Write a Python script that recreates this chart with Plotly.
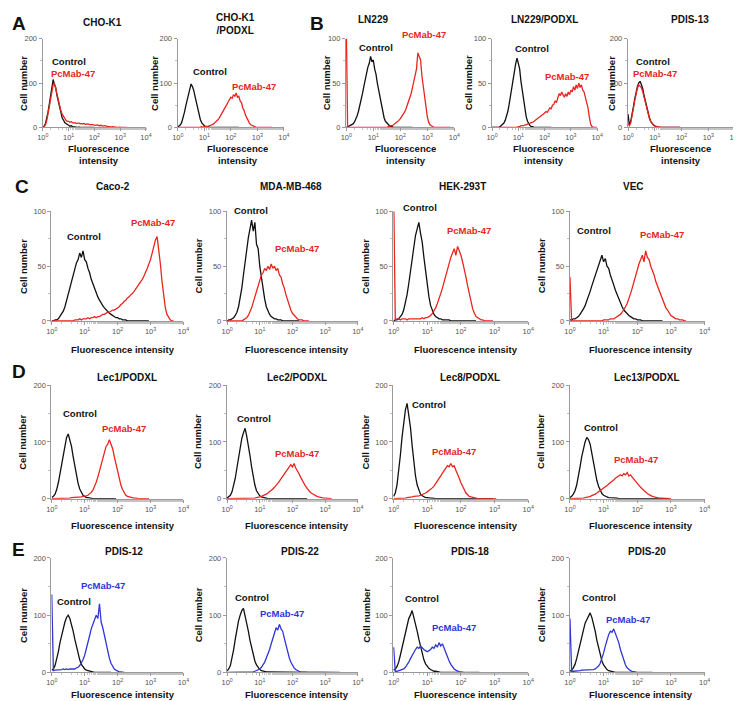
import plotly.graph_objects as go

W, H = 741, 701
RED = "#e8251f"
BLUE = "#2f36d8"
BLACK = "#111111"
AXIS = "#9a9a9a"
FONT = "Arial"

# fluorescence channels (log scale, 20 per decade)
channels = [
    1.0, 1.122, 1.259, 1.413, 1.585, 1.778, 1.995, 2.239, 2.512, 2.818,
    3.162, 3.548, 3.981, 4.467, 5.012, 5.623, 6.310, 7.079, 7.943, 8.913,
    10.0, 11.22, 12.59, 14.13, 15.85, 17.78, 19.95, 22.39, 25.12, 28.18,
    31.62, 35.48, 39.81, 44.67, 50.12, 56.23, 63.10, 70.79, 79.43, 89.13,
    100.0, 112.2, 125.9, 141.3, 158.5, 177.8, 199.5, 223.9, 251.2, 281.8,
    316.2, 354.8, 398.1, 446.7, 501.2, 562.3, 631.0, 707.9, 794.3, 891.3,
    1000, 1122, 1259, 1413, 1585, 1778, 1995, 2239, 2512, 2818,
    3162, 3548, 3981, 4467, 5012, 5623, 6310, 7079, 7943, 8913,
    10000]

tick_vals = [1, 10, 100, 1000, 10000]
tick_text = ["10<sup>0</sup>", "10<sup>1</sup>", "10<sup>2</sup>", "10<sup>3</sup>", "10<sup>4</sup>"]

# ---- A: CHO-K1, CHO-K1/PODXL ----
cho_k1_control = [1, 3, 8, 18, 34, 52, 74, 92, 108, 96,
                  90, 72, 60, 44, 34, 22, 17, 11, 9, 6,
                  5, 3, 4, 2, 2, 1, 1, 0, 1, 0,
                  0, 0, 0, 0, 0, 0, 0, 0, 0, 0, 0]
cho_k1_pcmab = [1, 2, 6, 15, 30, 48, 70, 88, 96, 100,
                86, 74, 62, 50, 38, 30, 24, 19, 16, 14,
                14, 12, 13, 11, 10, 11, 9, 10, 10, 8,
                9, 8, 9, 7, 8, 8, 7, 6, 7, 6,
                6, 5, 6, 5, 4, 5, 4, 3, 4, 3,
                2, 2, 2, 1, 2, 1, 1, 1, 0, 1,
                0, 0, 0, 0, 0, 0]
cho_podxl_control = [1, 3, 6, 12, 22, 34, 48, 62, 76, 86,
                     98, 92, 84, 70, 56, 40, 28, 18, 11, 6,
                     4, 2, 2, 1, 1, 0, 0, 0, 0, 0,
                     0, 0, 0, 0, 0, 0, 0, 0, 0, 0, 0, 0, 0, 0, 0, 0, 0]
cho_podxl_pcmab = [0, 0, 0, 0, 0, 0, 0, 0, 0, 0,
                   0, 0, 0, 0, 0, 0, 1, 1, 2, 1,
                   2, 2, 3, 3, 4, 5, 7, 8, 11, 13,
                   17, 20, 25, 29, 35, 40, 46, 52, 58, 62,
                   68, 66, 74, 70, 78, 68, 70, 60, 56, 44,
                   38, 28, 22, 14, 10, 6, 4, 2, 2, 1,
                   1, 0, 0, 0, 0, 0, 0, 0, 0, 0, 0, 0]

# ---- B: LN229, LN229/PODXL, PDIS-13 ----
ln229_control = [0, 1, 1, 2, 3, 4, 6, 9, 13, 18,
                 24, 31, 38, 46, 54, 60, 68, 72, 80, 74,
                 76, 66, 60, 50, 42, 32, 24, 17, 11, 7,
                 5, 3, 2, 1, 1, 0, 0, 0, 0, 0,
                 0, 0, 0, 0, 0, 0, 0, 0, 0, 0]
ln229_pcmab = [120, 0, 0, 0, 0, 0, 0, 0, 0, 0,
               0, 0, 0, 0, 0, 0, 0, 0, 0, 0,
               0, 0, 0, 0, 0, 0, 0, 0, 0, 0,
               0, 1, 1, 2, 2, 3, 4, 5, 6, 8,
               10, 12, 14, 17, 20, 24, 28, 33, 38, 45,
               52, 62, 66, 84, 80, 76, 58, 46, 32, 20,
               12, 6, 3, 2, 1, 0, 0, 0, 0, 0,
               0, 0, 0, 0, 0, 0, 0, 0]
ln229_podxl_control = [0, 0, 0, 0, 0, 0, 1, 2, 3, 5,
                       8, 12, 18, 26, 35, 46, 56, 66, 72, 78,
                       70, 66, 52, 42, 30, 20, 12, 7, 4, 2,
                       1, 1, 0, 0, 0, 0, 0, 0, 0, 0,
                       0, 0, 0, 0, 0, 0]
ln229_podxl_pcmab = [0, 0, 0, 0, 0, 0, 0, 0, 0, 0,
                     0, 0, 0, 0, 0, 0, 0, 0, 0, 0,
                     1, 1, 2, 2, 2, 3, 3, 4, 4, 5,
                     6, 6, 7, 8, 9, 10, 11, 12, 14, 15,
                     16, 18, 17, 20, 22, 21, 25, 26, 30, 28,
                     34, 38, 36, 40, 37, 34, 38, 35, 40, 37,
                     42, 40, 46, 42, 48, 44, 50, 45, 48, 42,
                     40, 34, 30, 22, 12, 4, 1, 0, 0, 0, 0]
pdis13_control = [30, 6, 14, 28, 46, 64, 80, 92, 100, 104,
                  96, 88, 72, 58, 44, 32, 22, 14, 9, 6,
                  4, 2, 1, 1, 0, 0, 0, 0, 0, 0,
                  0, 0, 0, 0, 0, 0, 0, 0, 0, 0]
pdis13_pcmab = [8, 4, 10, 24, 42, 60, 78, 88, 96, 94,
                90, 80, 68, 54, 40, 28, 20, 13, 8, 5,
                3, 2, 1, 1, 0, 0, 0, 0, 0, 0,
                0, 0, 0, 0, 0, 0, 0, 0, 0, 0]

# ---- C: Caco-2, MDA-MB-468, HEK-293T, VEC ----
caco2_control = [0, 0, 1, 1, 2, 4, 6, 9, 13, 18,
                 24, 30, 36, 42, 48, 53, 56, 62, 58, 64,
                 56, 54, 48, 44, 38, 34, 30, 25, 22, 19,
                 16, 14, 12, 10, 9, 7, 6, 5, 4, 3,
                 3, 2, 2, 1, 1, 1, 0, 0, 0, 0,
                 0, 0, 0, 0, 0, 0, 0, 0, 0, 0]
caco2_pcmab = [0, 0, 0, 0, 0, 0, 0, 0, 0, 0,
               0, 0, 0, 0, 1, 1, 1, 2, 1, 2,
               2, 2, 3, 2, 3, 3, 4, 3, 4, 4,
               5, 6, 6, 7, 8, 8, 9, 10, 10, 11,
               12, 13, 15, 16, 18, 19, 21, 22, 24, 25,
               27, 29, 31, 33, 36, 38, 41, 44, 48, 52,
               56, 62, 68, 74, 77, 66, 52, 36, 22, 12,
               6, 3, 1, 0, 0]
mda_control = [0, 1, 1, 2, 3, 5, 8, 13, 20, 30,
               42, 54, 66, 76, 84, 92, 82, 90, 70, 66,
               50, 40, 28, 20, 13, 9, 6, 4, 3, 2,
               2, 1, 1, 1, 0, 0, 0, 0, 0, 0,
               0, 0, 0, 0, 0]
mda_pcmab = [0, 0, 0, 0, 0, 0, 0, 0, 0, 0,
             1, 2, 3, 5, 8, 12, 17, 22, 28, 33,
             38, 42, 44, 48, 46, 50, 47, 52, 48, 50,
             46, 48, 42, 40, 34, 30, 24, 19, 14, 10,
             7, 5, 3, 2, 1, 1, 1, 0, 0, 0, 0]
hek_control = [0, 1, 1, 2, 4, 6, 10, 16, 24, 34,
               46, 58, 70, 78, 84, 90, 80, 72, 58, 46,
               32, 22, 14, 9, 6, 4, 3, 2, 2, 1,
               1, 1, 1, 1, 0, 0, 0, 0, 0, 0,
               0, 0, 0, 0, 0, 0, 0, 0, 0, 0]
hek_pcmab = [120, 1, 2, 2, 1, 2, 2, 2, 1, 2,
             2, 2, 2, 2, 2, 2, 2, 3, 2, 3,
             3, 4, 5, 7, 9, 12, 16, 20, 25, 30,
             36, 42, 48, 54, 58, 62, 66, 60, 68, 64,
             60, 54, 48, 40, 32, 24, 17, 11, 7, 4,
             3, 2, 1, 1, 0, 0, 0, 0, 0, 0]
vec_control = [1, 1, 2, 2, 3, 4, 6, 8, 11, 14,
               18, 22, 27, 32, 37, 42, 47, 52, 55, 60,
               54, 57, 50, 48, 42, 38, 33, 28, 24, 20,
               16, 13, 10, 8, 6, 5, 4, 3, 2, 2,
               1, 1, 1, 0, 0, 0, 0, 0, 0, 0,
               0, 0, 0, 0, 0, 0]
vec_pcmab = [40, 0, 0, 0, 0, 0, 0, 0, 0, 0,
             0, 0, 0, 0, 0, 0, 0, 0, 0, 0,
             1, 1, 1, 1, 2, 2, 2, 3, 4, 5,
             6, 8, 10, 13, 16, 20, 25, 30, 36, 42,
             46, 52, 56, 60, 54, 64, 58, 56, 50, 46,
             42, 36, 32, 28, 24, 20, 16, 12, 10, 7,
             5, 4, 3, 2, 2, 1, 1, 1, 0, 0]

# ---- D: Lec mutants ----
lec1_control = [2, 4, 8, 16, 28, 44, 62, 80, 96, 108,
                114, 104, 92, 74, 56, 40, 27, 17, 10, 6,
                4, 2, 2, 1, 1, 0, 0, 0, 0, 0,
                0, 0, 0, 0, 0, 0, 0, 0, 0, 0]
lec1_pcmab = [0, 0, 0, 0, 0, 0, 0, 0, 0, 0,
              1, 1, 2, 2, 2, 2, 3, 3, 3, 4,
              4, 5, 6, 8, 11, 15, 21, 29, 38, 48,
              60, 72, 82, 92, 96, 104, 96, 88, 74, 60,
              46, 34, 24, 16, 10, 6, 4, 3, 2, 1,
              1, 1, 0, 0, 0, 0, 0, 0, 0, 0]
lec2_control = [1, 3, 6, 12, 22, 36, 54, 74, 92, 106,
                116, 124, 110, 96, 76, 56, 38, 24, 14, 8,
                5, 3, 2, 1, 1, 0, 0, 0, 0, 0,
                0, 0, 0, 0, 0, 0, 0, 0, 0, 0,
                0, 0, 0, 0, 0, 0, 0, 0, 0, 0]
lec2_pcmab = [0, 0, 0, 0, 0, 0, 0, 0, 0, 0,
              0, 0, 0, 0, 0, 0, 1, 1, 2, 2,
              3, 4, 5, 6, 8, 10, 12, 14, 17, 20,
              23, 27, 31, 35, 40, 44, 48, 52, 56, 60,
              56, 62, 54, 50, 44, 38, 32, 27, 22, 18,
              14, 11, 9, 7, 5, 4, 3, 2, 2, 1,
              1, 1, 0, 0, 0]
lec8_control = [4, 10, 24, 46, 76, 108, 138, 156, 168, 150,
                126, 94, 64, 40, 24, 14, 8, 5, 3, 2,
                2, 1, 1, 1, 0, 0, 0, 0, 0, 0,
                0, 0, 0, 0, 0, 0, 0, 0, 0, 0,
                0, 0, 0, 0, 0, 0, 0, 0, 0, 0,
                0, 0, 0, 0, 0, 0, 0, 0, 0, 0]
lec8_pcmab = [0, 0, 0, 0, 0, 0, 1, 1, 2, 2,
              3, 3, 4, 4, 5, 5, 6, 7, 8, 10,
              12, 14, 16, 19, 22, 26, 30, 35, 40, 45,
              50, 54, 58, 56, 62, 56, 58, 50, 44, 36,
              28, 21, 15, 10, 7, 4, 3, 2, 1, 1,
              0, 0, 0, 0, 0, 0, 0, 0, 0, 0, 0, 0]
lec13_control = [2, 4, 8, 14, 24, 38, 56, 74, 90, 100,
                 108, 104, 96, 80, 62, 46, 32, 22, 14, 9,
                 6, 4, 3, 2, 2, 1, 1, 1, 1, 0,
                 0, 0, 0, 0, 0, 0, 0, 0, 0, 0,
                 0, 0, 0, 0, 0, 0, 0, 0, 0, 0,
                 0, 0, 0, 0, 0, 0, 0, 0, 0, 0]
lec13_pcmab = [0, 0, 0, 0, 0, 0, 0, 0, 1, 2,
               2, 3, 4, 5, 6, 8, 10, 12, 14, 16,
               18, 21, 23, 26, 28, 31, 33, 36, 38, 40,
               42, 40, 44, 42, 46, 40, 42, 38, 34, 30,
               27, 23, 20, 17, 14, 11, 9, 7, 5, 4,
               3, 2, 2, 1, 1, 1, 1, 1, 0, 0, 0]

# ---- E: PDIS lines ----
pdis12_control = [4, 6, 12, 22, 36, 52, 66, 78, 88, 96,
                  100, 94, 84, 72, 58, 44, 32, 22, 14, 9,
                  6, 4, 3, 2, 1, 1, 0, 0, 0, 0,
                  0, 0, 0, 0, 0, 0, 0]
pdis12_pcmab = [136, 3, 4, 4, 5, 4, 5, 6, 5, 6,
                5, 6, 6, 7, 6, 8, 9, 12, 16, 22,
                30, 40, 52, 64, 76, 86, 92, 100, 94, 120,
                88, 78, 64, 50, 36, 25, 16, 10, 6, 4,
                2, 1, 1, 0, 0]
pdis22_control = [3, 6, 12, 24, 40, 58, 76, 90, 100, 108,
                  112, 100, 88, 72, 56, 42, 30, 20, 13, 8,
                  5, 3, 2, 2, 1, 1, 1, 0, 0, 0,
                  0, 0, 0, 0, 0, 0, 0, 0, 0, 0,
                  0, 0, 0, 0, 0, 0, 0, 0, 0, 0]
pdis22_pcmab = [0, 0, 0, 0, 0, 0, 0, 0, 0, 0,
                0, 0, 0, 0, 0, 0, 1, 2, 3, 4,
                6, 9, 13, 18, 25, 32, 40, 50, 60, 70,
                78, 74, 84, 76, 72, 60, 48, 36, 26, 18,
                12, 8, 5, 3, 2, 1, 1, 0, 0, 0,
                0, 0, 0, 0, 0, 0, 0, 0, 0, 0,
                0, 0, 0, 0, 0, 0, 0, 0, 0, 0]
pdis18_control = [4, 6, 10, 18, 30, 44, 58, 72, 84, 94,
                  100, 108, 96, 86, 72, 58, 44, 32, 22, 15,
                  10, 7, 5, 3, 2, 2, 1, 1, 0, 0,
                  0, 0, 0, 0, 0, 0, 0, 0, 0, 0]
pdis18_pcmab = [44, 2, 2, 3, 3, 4, 6, 9, 13, 18,
                24, 30, 36, 40, 44, 42, 46, 42, 40, 38,
                36, 38, 40, 44, 42, 48, 44, 52, 46, 50,
                42, 36, 28, 20, 14, 9, 6, 4, 2, 1,
                1, 0, 0, 0, 0, 0, 0, 0, 0, 0, 0, 0]
pdis20_control = [2, 4, 8, 14, 24, 36, 50, 64, 76, 86,
                  92, 98, 104, 96, 86, 72, 56, 42, 30, 20,
                  13, 8, 5, 3, 2, 1, 1, 0, 0, 0,
                  0, 0, 0, 0, 0, 0, 0, 0, 0, 0]
pdis20_pcmab = [94, 2, 2, 2, 3, 3, 3, 4, 4, 4,
                4, 4, 4, 4, 5, 6, 8, 11, 16, 24,
                34, 46, 58, 66, 72, 70, 76, 68, 62, 52,
                40, 30, 20, 13, 8, 5, 3, 2, 1, 1,
                0, 0, 0, 0, 0, 0, 0, 0, 0, 0]


# layout of each panel in pixels: box = (left, right, top, bottom)
row_ab = (27, 117)
row_c = (202, 313)
row_d = (378, 493)
row_e = (553, 669)
cols4 = [(39, 173), (217, 350), (386, 523), (565, 702)]

panels = [
    dict(title="CHO-K1", ctrl=cho_k1_control, pc=cho_k1_pcmab, col=RED, ymax=200,
         box=(30, 135) + row_ab, t=(91, 11), c=(57, 50), p=(61, 62), yl=10, xl=(87, 144)),
    dict(title="CHO-K1<br>/PODXL", ctrl=cho_podxl_control, pc=cho_podxl_pcmab, col=RED, ymax=200,
         box=(167, 275) + row_ab, t=(226, 12), c=(200, 60), p=(245, 75), yl=143, xl=(228, 144)),
    dict(title="LN229", ctrl=ln229_control, pc=ln229_pcmab, col=RED, ymax=100,
         box=(338, 448) + row_ab, t=(365, 8), c=(368, 36), p=(417, 23), yl=318, xl=(398, 144)),
    dict(title="LN229/PODXL", ctrl=ln229_podxl_control, pc=ln229_podxl_pcmab, col=RED, ymax=100,
         box=(486, 593) + row_ab, t=(540, 8), c=(527, 37), p=(562, 65), yl=462, xl=(538, 144)),
    dict(title="PDIS-13", ctrl=pdis13_control, pc=pdis13_pcmab, col=RED, ymax=200,
         box=(624, 733) + row_ab, t=(687, 8), c=(650, 50), p=(652, 62), yl=607, xl=(678, 144)),

    dict(title="Caco-2", ctrl=caco2_control, pc=caco2_pcmab, col=RED, ymax=100,
         box=cols4[0] + row_c, t=(101, 177), c=(72, 227), p=(142, 213), yl=10, xl=(112, 342)),
    dict(title="MDA-MB-468", ctrl=mda_control, pc=mda_pcmab, col=RED, ymax=100,
         box=cols4[1] + row_c, t=(282, 177), c=(242, 201), p=(288, 240), yl=188, xl=(288, 342)),
    dict(title="HEK-293T", ctrl=hek_control, pc=hek_pcmab, col=RED, ymax=100,
         box=cols4[2] + row_c, t=(456, 177), c=(413, 198), p=(463, 221), yl=358, xl=(460, 342)),
    dict(title="VEC", ctrl=vec_control, pc=vec_pcmab, col=RED, ymax=100,
         box=cols4[3] + row_c, t=(630, 177), c=(590, 221), p=(659, 225), yl=536, xl=(637, 342)),

    dict(title="Lec1/PODXL", ctrl=lec1_control, pc=lec1_pcmab, col=RED, ymax=200,
         box=cols4[0] + row_d, t=(116, 370), c=(68, 407), p=(113, 422), yl=10, xl=(112, 520)),
    dict(title="Lec2/PODXL", ctrl=lec2_control, pc=lec2_pcmab, col=RED, ymax=200,
         box=cols4[1] + row_d, t=(288, 370), c=(245, 412), p=(288, 447), yl=188, xl=(288, 520)),
    dict(title="Lec8/PODXL", ctrl=lec8_control, pc=lec8_pcmab, col=RED, ymax=200,
         box=cols4[2] + row_d, t=(464, 370), c=(422, 398), p=(448, 445), yl=358, xl=(460, 520)),
    dict(title="Lec13/PODXL", ctrl=lec13_control, pc=lec13_pcmab, col=RED, ymax=200,
         box=cols4[3] + row_d, t=(644, 370), c=(597, 421), p=(632, 453), yl=536, xl=(637, 520)),

    dict(title="PDIS-12", ctrl=pdis12_control, pc=pdis12_pcmab, col=BLUE, ymax=200,
         box=cols4[0] + row_e, t=(113, 547), c=(62, 597), p=(91, 581), yl=10, xl=(112, 691)),
    dict(title="PDIS-22", ctrl=pdis22_control, pc=pdis22_pcmab, col=BLUE, ymax=200,
         box=cols4[1] + row_e, t=(291, 547), c=(243, 593), p=(273, 609), yl=188, xl=(288, 691)),
    dict(title="PDIS-18", ctrl=pdis18_control, pc=pdis18_pcmab, col=BLUE, ymax=200,
         box=cols4[2] + row_e, t=(464, 547), c=(415, 594), p=(448, 624), yl=358, xl=(460, 691)),
    dict(title="PDIS-20", ctrl=pdis20_control, pc=pdis20_pcmab, col=BLUE, ymax=200,
         box=cols4[3] + row_e, t=(644, 547), c=(595, 593), p=(624, 615), yl=536, xl=(637, 691)),
]

letters = [("A", 6, 12), ("B", 309, 12), ("C", 9, 177), ("D", 6, 364), ("E", 6, 544)]


def fx(x):
    return x / W


def fy(y):
    return 1 - y / H


def label(text, x, y, size=9.5, color=BLACK, angle=0):
    return dict(text=text, x=fx(x), y=fy(y), xref="paper", yref="paper",
                xanchor="center", yanchor="middle", showarrow=False, textangle=angle,
                font=dict(family=FONT, size=size, color=color, weight="bold"))


fig = go.Figure()
annotations = []
layout_axes = {}

for i, p in enumerate(panels, start=1):
    x0, x1, top, bottom = p["box"]
    xa, ya = f"x{i}", f"y{i}"
    fig.add_trace(go.Scatter(x=channels[:len(p["ctrl"])], y=p["ctrl"], mode="lines",
                             line=dict(color=BLACK, width=1.3), xaxis=xa, yaxis=ya,
                             showlegend=False, hoverinfo="skip"))
    fig.add_trace(go.Scatter(x=channels[:len(p["pc"])], y=p["pc"], mode="lines",
                             line=dict(color=p["col"], width=1.3), xaxis=xa, yaxis=ya,
                             showlegend=False, hoverinfo="skip"))
    ymax = p["ymax"]
    layout_axes[f"xaxis{i}"] = dict(
        type="log", range=[-0.01, 4], domain=[fx(x0), fx(x1)], anchor=ya,
        showline=True, linecolor=AXIS, linewidth=1, ticks="outside", ticklen=3,
        tickcolor=AXIS, tickvals=tick_vals, ticktext=tick_text, showgrid=False,
        zeroline=False, tickfont=dict(family=FONT, size=7.5, color="#555"),
        minor=dict(ticks="outside", ticklen=2, tickcolor="#c4c4c4", showgrid=False))
    layout_axes[f"yaxis{i}"] = dict(
        range=[0, ymax], domain=[fy(bottom), fy(top)], anchor=xa,
        showline=True, linecolor=AXIS, linewidth=1, ticks="outside", ticklen=3,
        tickcolor=AXIS, tickvals=[0, ymax / 2, ymax], showgrid=False, zeroline=False,
        tickfont=dict(family=FONT, size=7.5, color="#555"),
        minor=dict(dtick=ymax / 4, ticks="outside", ticklen=2, tickcolor="#bbb", showgrid=False))

    annotations.append(label(p["title"], *p["t"], size=10))
    annotations.append(label("Control", *p["c"]))
    annotations.append(label("PcMab-47", *p["p"], color=p["col"]))
    annotations.append(label("Cell number", p["yl"], (top + bottom) / 2, size=9.5, angle=-90))
    xt = "Fluorescence<br>intensity" if i <= 5 else "Fluorescence intensity"
    annotations.append(label(xt, *p["xl"], size=9.5))

for text, x, y in letters:
    annotations.append(label(text, x, y, size=19))

fig.update_layout(width=W, height=H, margin=dict(l=0, r=0, t=0, b=0),
                  paper_bgcolor="white", plot_bgcolor="white",
                  annotations=annotations, **layout_axes)

fig.write_html("out.html")
